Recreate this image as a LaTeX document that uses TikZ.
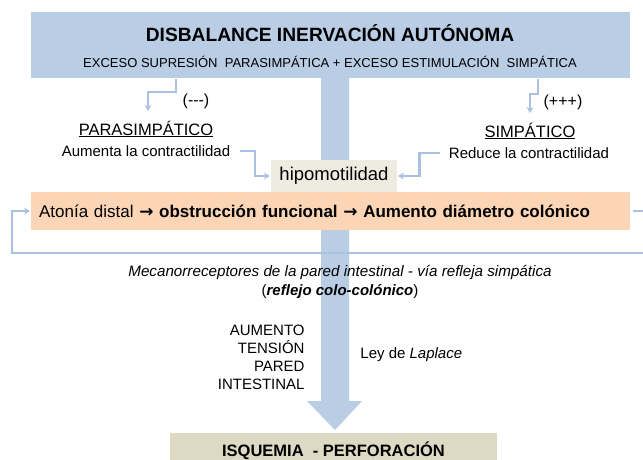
\documentclass[tikz,border=0pt]{standalone}
\usepackage{fontspec}
\setmainfont{Liberation Sans}
\newfontfamily\arrowfont{DejaVu Sans}
\usetikzlibrary{arrows.meta}

\definecolor{boxblue}{HTML}{B9CDE5}
\definecolor{lineblue}{HTML}{A9C2E2}
\definecolor{peach}{HTML}{FBD5B5}
\definecolor{sand}{HTML}{DDD9C3}
\definecolor{paper}{HTML}{EEECE1}

\newcommand{\ra}{{\arrowfont\bfseries →}}

\begin{document}
\begin{tikzpicture}[
	>={Stealth[length=6pt,width=7pt]},
	line width=2.2pt,
	x=1pt,y=-1pt,
	font=\fontsize{15}{18}\selectfont,
	link/.style={draw=lineblue, ->}
	]
\useasboundingbox (0,0) rectangle (643,459);
\clip (0,0) rectangle (643,459);

% big arrow, behind the boxes
\fill[boxblue] (321,70) -- (349,70) -- (349,401) -- (362,401) -- (335,430)
	-- (307,401) -- (321,401) -- cycle;

% top box
\node[fill=boxblue, minimum width=599, minimum height=66, anchor=north west] (top) at (30,11) {};
\node[font=\fontsize{19.2}{19}\selectfont\bfseries] (title) at (330,33) {DISBALANCE INERVACIÓN AUTÓNOMA};
\node[font=\fontsize{13}{13}\selectfont] (subtitle) at (330,62) {EXCESO SUPRESIÓN \ PARASIMPÁTICA + EXCESO ESTIMULACIÓN \ SIMPÁTICA};

% two branches
\node[font=\fontsize{16}{16}\selectfont] (minus) at (196,101) {(-{}-{}-)};
\node[font=\fontsize{16.5}{16.5}\selectfont] (para) at (146,129) {\underline{PARASIMPÁTICO}};
\node (aumenta) at (146,151) {Aumenta la contractilidad};
\node[font=\fontsize{16}{16}\selectfont] (plus) at (563,102) {(+++)};
\node[font=\fontsize{16.5}{16.5}\selectfont] (simp) at (530,131) {\underline{SIMPÁTICO}};
\node (reduce) at (529,153) {Reduce la contractilidad};

\node[fill=paper, minimum width=126, minimum height=32, font=\fontsize{18.5}{18.5}\selectfont] (hipo) at (334,176) {hipomotilidad};

\node[fill=peach, minimum width=599, minimum height=38, anchor=west, text width=583, inner xsep=8, align=left,
	font=\fontsize{17}{17}\selectfont] (atonia) at (30,211)
	{Atonía distal \ra\ \textbf{obstrucción funcional \ra\ Aumento diámetro colónico}};

% reflex
\node[font=\fontsize{15.2}{15}\selectfont\itshape] (mecano) at (340,272) {Mecanorreceptores de la pared intestinal - vía refleja simpática};
\node (reflejo) at (340,292) {(\textbf{\textit{reflejo colo-colónico}})};

\node[align=right, anchor=east] (tension) at (309,357) {AUMENTO\\TENSIÓN\\PARED\\INTESTINAL};
\node[anchor=west] (laplace) at (356,355) {Ley de \textit{Laplace}};

\node[fill=sand, minimum width=327, minimum height=36, font=\fontsize{16.5}{16.5}\selectfont\bfseries] (isquemia) at (333.5,451) {ISQUEMIA \ - PERFORACIÓN};

% connectors
\coordinate (parain) at (148,111);
\coordinate (simpin) at (530,113);
\coordinate (loopr) at (660,253);
\coordinate (loopl) at (12,253);

\draw[link] ([xshift=-155]top.south) -- ++(0,13) -| (parain);
\draw[link] ([xshift=207]top.south) -- ++(0,15) -| (simpin);
\draw[link] ([xshift=5]aumenta.east) -- ++(15,0) |- (hipo.west);
\draw[link] ([xshift=-5]reduce.west) -- ++(-20,0) |- (hipo.east);
\draw[link] ([xshift=2]atonia.east) -- (atonia.east -| loopr) -- (loopr) -- (loopl) |- (atonia.west);

\end{tikzpicture}
\end{document}
